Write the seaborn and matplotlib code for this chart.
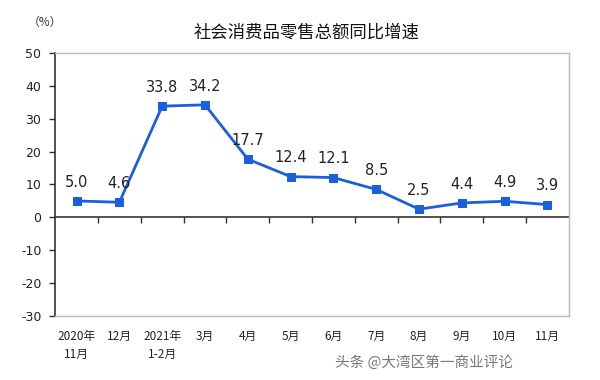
import matplotlib
matplotlib.use("Agg")
import matplotlib.pyplot as plt
import seaborn as sns
import pandas as pd
import numpy as np

categories = ["2020年\n11月", "12月", "2021年\n1-2月", "3月", "4月", "5月", "6月",
              "7月", "8月", "9月", "10月", "11月"]
values = [5.0, 4.6, 33.8, 34.2, 17.7, 12.4, 12.1, 8.5, 2.5, 4.4, 4.9, 3.9]
yticks = [-30, -20, -10, 0, 10, 20, 30, 40, 50]

sns.set_theme(style="white")
plt.rcParams['font.family'] = ['Noto Sans CJK SC', 'DejaVu Sans']

df = pd.DataFrame({"idx": np.arange(len(categories)), "cat": categories, "val": values})

fig = plt.figure(figsize=(6, 3.8), dpi=100)
ax = fig.add_axes([0.092, 0.168, 0.856, 0.693])

color = "#1a5fdc"
sns.lineplot(data=df, x="idx", y="val", ax=ax, color=color, linewidth=2,
             marker="s", markersize=6, markeredgecolor=color)

for i, v in zip(df["idx"], df["val"]):
    ax.annotate(f"{v:.1f}", (i, v), xytext=(0, 8), textcoords="offset points",
                ha="center", va="bottom", fontsize=10.5, color="#222222",
                family="DejaVu Sans")

ax.set_xlim(-0.5, len(categories) - 0.5)
ax.set_ylim(-30, 50)
ax.set_yticks(yticks)
ax.set_yticklabels([str(t) for t in yticks], fontsize=9, color="#222222", family="DejaVu Sans")
ax.tick_params(axis="y", direction="out", length=4, width=1, color="#333333", left=True, pad=6)

ax.set_xticks(df["idx"])
ax.set_xticklabels(categories, fontsize=8.5, color="#222222", linespacing=1.5,
                   fontweight="medium")
ax.tick_params(axis="x", length=0, pad=10)
ax.set_xlabel("")
ax.set_ylabel("")

for s in ["top", "right", "bottom"]:
    ax.spines[s].set_color("#bbbbbb")
    ax.spines[s].set_linewidth(1)
ax.spines["left"].set_color("#333333")
ax.spines["left"].set_linewidth(1.2)

# zero axis with category boundary ticks
sec = ax.secondary_xaxis(30 / 80)
sec.set_xticks(np.arange(len(categories) - 1) + 0.5)
sec.set_xticklabels([])
sec.tick_params(direction="out", length=4, width=1, color="#333333")
sec.spines["bottom"].set_color("#333333")
sec.spines["bottom"].set_linewidth(1.2)

fig.text(0.51, 0.913, "社会消费品零售总额同比增速", ha="center", va="center",
         fontsize=12.5, color="#111111", fontweight="medium")
fig.text(0.075, 0.942, "（%）", ha="center", va="center", fontsize=8.5, color="#333333")
fig.text(0.855, 0.045, "头条 @大湾区第一商业评论", ha="right", va="center",
         fontsize=10.5, color="#777777")

fig.savefig("out.png", dpi=100, facecolor="white")
